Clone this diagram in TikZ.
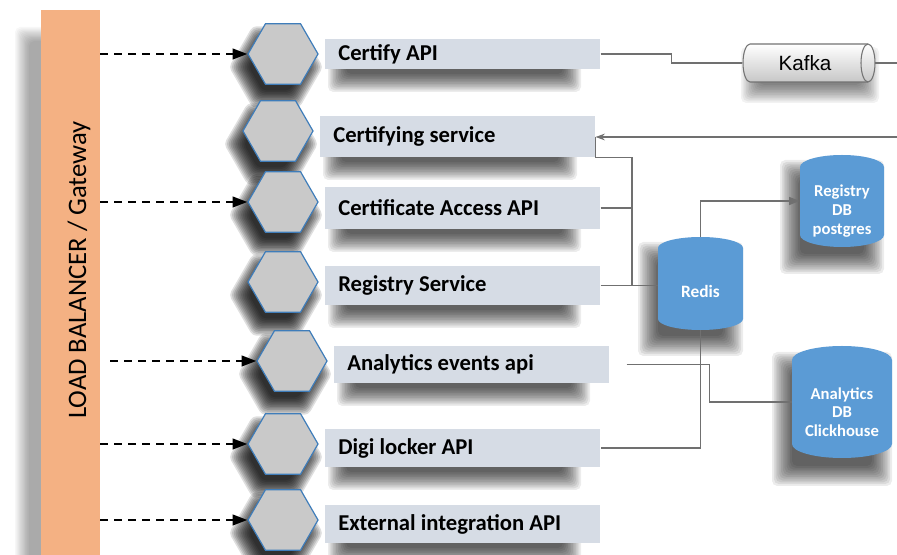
\documentclass[tikz,border=0pt]{standalone}
\usepackage{fontspec}
\setmainfont{Carlito}
\newfontfamily\arialfont{Liberation Sans}
\usetikzlibrary{shapes.geometric,arrows.meta,calc}
\definecolor{lbor}{HTML}{F4B183}
\definecolor{hexfill}{HTML}{C9C9C9}
\definecolor{hexblue}{HTML}{3F7DBA}
\definecolor{boxfill}{HTML}{D6DCE5}
\definecolor{dbblue}{HTML}{5B9BD5}
\definecolor{linegray}{HTML}{707070}
% soft shadow: left, top, right, bottom (px, y negative), blur (px), opacity per layer
\newcommand\shboxsoft[6]{%
  \foreach \kk in {1,...,12}{%
    \pgfmathsetmacro\dd{#5*(6.5-\kk)/5.5}%
    \fill[black, opacity=#6, rounded corners=4pt] ({#1-\dd},{#2+\dd}) rectangle ({#3+\dd},{#4-\dd});
  }}
% soft hexagon shadow: cx, cy, circumradius (px), blur (px), opacity per layer
\newcommand\shhexsoft[5]{%
  \foreach \kk in {1,...,12}{%
    \pgfmathsetmacro\rr{#3+#4*(6.5-\kk)/5.5}%
    \fill[black, opacity=#5, rounded corners=3pt] ({#1+\rr},{#2}) -- ({#1+0.5*\rr},{#2+0.866*\rr}) -- ({#1-0.5*\rr},{#2+0.866*\rr})
      -- ({#1-\rr},{#2}) -- ({#1-0.5*\rr},{#2-0.866*\rr}) -- ({#1+0.5*\rr},{#2-0.866*\rr}) -- cycle;
  }}
\begin{document}
\begin{tikzpicture}[x=0.75pt,y=0.75pt,
  hexa/.style={regular polygon, regular polygon sides=6, minimum size=52.5pt, inner sep=0pt,
    fill=hexfill, draw=hexblue, line width=0.9pt},
  lbl/.style={anchor=west, fill=boxfill, minimum width=206.25pt, text width=186.75pt, align=flush left,
    inner xsep=9.75pt, inner ysep=0pt, font=\fontsize{17}{20}\selectfont\bfseries},
  lbarrow/.style={dash pattern=on 6pt off 4.5pt, line width=1.5pt, -{Triangle[length=11pt,width=8pt]}},
  conn/.style={draw=linegray, line width=1.1pt},
  dbtext/.style={text=white, font=\fontsize{12.5}{14}\selectfont\bfseries, align=center},
  ghost/.style={inner sep=0pt, draw=none}
]
\useasboundingbox (0,-555) rectangle (897,0);
\fill[white] (0,-555) rectangle (897,0);

% ---- shadows ----
\shboxsoft{22}{-34}{60}{-600}{7}{0.03}
% hexagon shadows
\shhexsoft{276}{-67}{37}{10}{0.125}
\shhexsoft{271}{-144}{37}{10}{0.125}
\shhexsoft{276}{-215}{37}{10}{0.125}
\shhexsoft{276}{-295}{37}{10}{0.125}
\shhexsoft{285}{-374}{37}{10}{0.125}
\shhexsoft{276}{-457}{37}{10}{0.125}
\shhexsoft{276}{-533}{37}{10}{0.125}
% label-box shadows
\shboxsoft{337}{-51}{572}{-83}{9}{0.075}
\shboxsoft{332}{-128}{568}{-171}{9}{0.075}
\shboxsoft{337}{-199}{572}{-243}{9}{0.075}
\shboxsoft{337}{-278}{572}{-319}{9}{0.075}
\shboxsoft{346}{-358}{581}{-397}{9}{0.075}
\shboxsoft{337}{-441}{572}{-481}{9}{0.075}
\shboxsoft{337}{-517}{572}{-557}{9}{0.075}
% Kafka and database shadows
\shboxsoft{750}{-56}{870}{-94}{9}{0.05}
\shboxsoft{648}{-252}{733}{-346}{10}{0.075}
\shboxsoft{790}{-170}{874}{-264}{10}{0.075}
\shboxsoft{782}{-362}{882}{-476}{10}{0.075}

% Load balancer
\node[ghost, fill=lbor, minimum width=44.25pt, minimum height=408.75pt] (lb) at (70.5,-282.5) {};
\node[rotate=90, font=\fontsize{20}{24}\selectfont] (lbtext) at (79,-270) {LOAD BALANCER / Gateway};

% Hexagons
\node[hexa] (h1) at (283,-54) {};
\node[hexa] (h2) at (278,-131) {};
\node[hexa] (h3) at (283,-202) {};
\node[hexa] (h4) at (283,-282) {};
\node[hexa] (h5) at (292,-361) {};
\node[hexa] (h6) at (283,-444) {};
\node[hexa] (h7) at (283,-520) {};

% Labels
\node[lbl, minimum height=22.5pt] (b1) at (325,-54) {Certify API};
\node[lbl, minimum height=30.75pt] (b2) at (320,-136.5) {Certifying service};
\node[lbl, minimum height=31.5pt] (b3) at (325,-208) {Certificate Access API};
\node[lbl, minimum height=29.25pt] (b4) at (325,-285.5) {Registry Service};
\node[lbl, minimum height=27.75pt] (b5) at (334,-364.5) {Analytics events api};
\node[lbl, minimum height=28.5pt] (b6) at (325,-448) {Digi locker API};
\node[lbl, minimum height=28.5pt] (b7) at (325,-524) {External integration API};

% Dashed arrows from load balancer
\coordinate (a5) at (110,-361);
\draw[lbarrow] (h1.west -| lb.east) -- (h1.west);
\draw[lbarrow] (h3.west -| lb.east) -- (h3.west);
\draw[lbarrow] (a5) -- (h5.west);
\draw[lbarrow] (h6.west -| lb.east) -- (h6.west);
\draw[lbarrow] (h7.west -| lb.east) -- (h7.west);

% Kafka
\node[ghost, minimum width=99.75pt, minimum height=28.5pt] (kafka) at (808.5,-63) {};
\path[draw=black!55, line width=0.8pt, top color=white, bottom color=black!22]
  (750,-44) -- (868,-44) arc[start angle=90, end angle=-90, x radius=5.25pt, y radius=14.25pt]
  -- (750,-82) arc[start angle=270, end angle=90, x radius=5.25pt, y radius=14.25pt] -- cycle;
\draw[black!55, line width=0.8pt] (868,-44) arc[start angle=90, end angle=270, x radius=5.25pt, y radius=14.25pt];
\node[font=\arialfont\fontsize{15.5}{18}\selectfont] (kafkatext) at (805,-63) {Kafka};

% Databases (cylinders)
\fill[dbblue] (658,-248) arc[start angle=180, end angle=0, x radius=31.875pt, y radius=8.25pt]
  -- (743,-319) arc[start angle=0, end angle=-180, x radius=31.875pt, y radius=8.25pt] -- cycle;
\node[ghost, minimum width=63.75pt, minimum height=69.75pt] (redis) at (700.5,-283.5) {};
\node[dbtext, font=\fontsize{13}{15}\selectfont\bfseries] (redistext) at (700.5,-291) {Redis};

\fill[dbblue] (800,-167) arc[start angle=180, end angle=0, x radius=31.5pt, y radius=9pt]
  -- (884,-235) arc[start angle=0, end angle=-180, x radius=31.5pt, y radius=9pt] -- cycle;
\node[ghost, minimum width=63pt, minimum height=69pt] (regdb) at (842,-201) {};
\node[dbtext] (regdbtext) at (842,-211) {Registry\\DB\\postgres};

\fill[dbblue] (792,-360) arc[start angle=180, end angle=0, x radius=37.5pt, y radius=10.5pt]
  -- (892,-444) arc[start angle=0, end angle=-180, x radius=37.5pt, y radius=10.5pt] -- cycle;
\node[ghost, minimum width=75pt, minimum height=84pt] (andb) at (842,-402) {};
\node[dbtext, font=\fontsize{12.5}{14}\selectfont\bfseries] (andbtext) at (842,-412) {Analytics\\DB\\Clickhouse};

% Connectors
\coordinate (kout) at (897,-63);
\coordinate (rin) at (897,-137);
\coordinate (bus) at (632,-285);
\draw[conn] (b1.east) -- ++(71,0) |- (kafka.west);
\draw[conn] (kafka.east) -- (kout);
\draw[conn, -{Stealth[length=7pt,width=5pt]}] (rin) -- (rin -| b2.east);
\draw[conn] (rin -| b2.east) -- (b2.south east) -| (bus);
\draw[conn] (b3.east) -- (b3.east -| bus);
\draw[conn] (b4.east) -- (b4.east -| redis.west);
\draw[conn, -{Triangle[length=8pt,width=6pt]}] (redis.north) |- (regdb.west);
\draw[conn] ($(b5.east)+(17,0)$) -- ++(83,0) |- (andb.west);
\draw[conn] (redis.south) |- (b6.east);
\end{tikzpicture}
\end{document}
